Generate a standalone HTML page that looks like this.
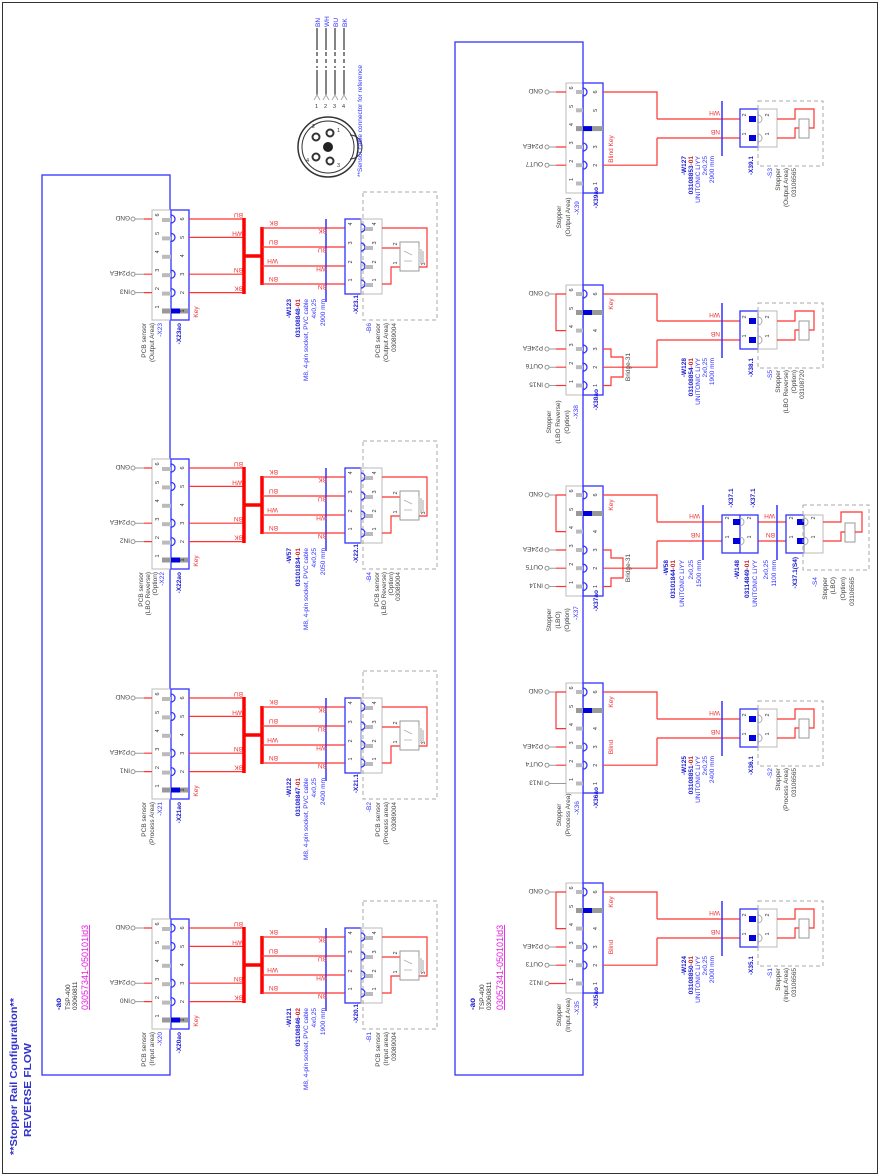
<!DOCTYPE html>
<html><head><meta charset="utf-8"><style>
html,body{margin:0;padding:0;background:#fff;}
svg{display:block;font-family:"Liberation Sans",sans-serif;}
.r{stroke:#f33;stroke-width:1.2;fill:none}
.bl{stroke:#33f;stroke-width:1.3;fill:none}
.g{fill:#bbb}
.t{font-size:6.5px;fill:#33f}
.tb{font-size:6.5px;fill:#1a1ad0;font-weight:bold}
.tr{font-size:6.5px;fill:#e33}
.tk{font-size:6.5px;fill:#444}
.d{font-size:5.5px;fill:#333}
</style></head><body>
<svg width="880" height="1176" viewBox="0 0 880 1176" xmlns="http://www.w3.org/2000/svg">
<rect x="0" y="0" width="880" height="1176" fill="#fff"/>
<rect x="2.5" y="2.5" width="875" height="1171" fill="none" stroke="#333" stroke-width="1"/>

<defs>
<!-- ============ SENSOR MODULE (X20 coords, G=928) ============ -->
<g id="sens">
 <rect x="152" y="919" width="19" height="110" fill="#fff" stroke="#bbb"/>
 <rect x="171" y="919" width="18" height="110" class="bl"/>
 <rect x="162" y="927" width="9" height="4" class="g"/><rect x="162" y="945.4" width="9" height="4" class="g"/>
 <rect x="162" y="963.8" width="9" height="4" class="g"/><rect x="162" y="982.2" width="9" height="4" class="g"/>
 <rect x="162" y="1000.6" width="9" height="4" class="g"/>
 <rect x="162" y="1017.5" width="9" height="5" fill="#999"/>
 <rect x="171" y="1017.5" width="9" height="5" fill="#00d"/><rect x="180" y="1017.5" width="8" height="5" fill="#999"/>
 <path d="M171,924 a4,4 0 0 1 0,8 M171,942.4 a4,4 0 0 1 0,8 M171,979.2 a4,4 0 0 1 0,8 M171,997.6 a4,4 0 0 1 0,8" class="bl"/>
 <g class="d">
  <text transform="translate(159,924) rotate(-90)" text-anchor="middle">6</text>
  <text transform="translate(159,942.4) rotate(-90)" text-anchor="middle">5</text>
  <text transform="translate(159,960.8) rotate(-90)" text-anchor="middle">4</text>
  <text transform="translate(159,979.2) rotate(-90)" text-anchor="middle">3</text>
  <text transform="translate(159,997.6) rotate(-90)" text-anchor="middle">2</text>
  <text transform="translate(159,1016) rotate(-90)" text-anchor="middle">1</text>
  <text transform="translate(184,928) rotate(-90)" text-anchor="middle">6</text>
  <text transform="translate(184,946.4) rotate(-90)" text-anchor="middle">5</text>
  <text transform="translate(184,964.8) rotate(-90)" text-anchor="middle">4</text>
  <text transform="translate(184,983.2) rotate(-90)" text-anchor="middle">3</text>
  <text transform="translate(184,1001.6) rotate(-90)" text-anchor="middle">2</text>
  <text transform="translate(184,1020) rotate(-90)" text-anchor="middle">1</text>
 </g>
 <g fill="#fff" stroke="#999"><circle cx="133" cy="928" r="2"/><circle cx="133" cy="983.2" r="2"/><circle cx="133" cy="1001.6" r="2"/></g>
 <path d="M135,928H144 M135,983.2H144 M135,1001.6H144" stroke="#999"/>
 <path d="M144,928H152 M144,983.2H152 M144,1001.6H152" class="r"/>
 <path d="M189,928H244 M189,946.4H244 M189,983.2H244 M189,1001.6H244" class="r"/>
 <path d="M244,927V1003 M244,965H262 M262,936V994" stroke="#f00" stroke-width="3.5" fill="none"/>
 <path d="M262,937H345 M262,956H345 M262,975H345 M262,993H345" class="r"/>
 <path d="M326,928V1011" stroke="#33f" stroke-width="1.5"/>
 <rect x="345" y="928" width="16" height="75" class="bl"/>
 <rect x="361" y="928" width="21" height="75" fill="none" stroke="#bbb"/>
 <rect x="363" y="901" width="74" height="128" fill="none" stroke="#aaa" stroke-dasharray="4,3"/>
 <path d="M361,933 a4,4 0 0 1 0,8 M361,952 a4,4 0 0 1 0,8 M361,971 a4,4 0 0 1 0,8 M361,989 a4,4 0 0 1 0,8" class="bl"/>
 <rect x="365" y="936" width="8" height="4" class="g"/><rect x="365" y="955" width="8" height="4" class="g"/>
 <rect x="365" y="974" width="8" height="4" class="g"/><rect x="365" y="992" width="8" height="4" class="g"/>
 <g class="d">
  <text transform="translate(352,933) rotate(-90)" text-anchor="middle">4</text>
  <text transform="translate(352,952) rotate(-90)" text-anchor="middle">3</text>
  <text transform="translate(352,971) rotate(-90)" text-anchor="middle">2</text>
  <text transform="translate(352,989) rotate(-90)" text-anchor="middle">1</text>
  <text transform="translate(376,933) rotate(-90)" text-anchor="middle">4</text>
  <text transform="translate(376,952) rotate(-90)" text-anchor="middle">3</text>
  <text transform="translate(376,971) rotate(-90)" text-anchor="middle">2</text>
  <text transform="translate(376,989) rotate(-90)" text-anchor="middle">1</text>
  <text transform="translate(397,953) rotate(-90)" text-anchor="middle">2</text>
  <text transform="translate(397,972) rotate(-90)" text-anchor="middle">1</text>
  <text transform="translate(425,973) rotate(-90)" text-anchor="middle">3</text>
 </g>
 <path d="M382,937H427V976H419 M382,957H400 M382,993H391V976H400" class="r"/>
 <rect x="400" y="951" width="19" height="29" fill="#fff" stroke="#999"/>
 <path d="M419,956V975 M421,958V973 M423,960V971" stroke="#aaa"/>
 <path d="M404,960l8,4 M404,970h8" stroke="#aaa" stroke-width="0.7"/>
 <g class="tr">
  <text transform="translate(243,922) rotate(180)">BU</text>
  <text transform="translate(243,940.4) rotate(180)">WH</text>
  <text transform="translate(243,977.2) rotate(180)">BN</text>
  <text transform="translate(243,995.6) rotate(180)">BK</text>
  <text transform="translate(278,930) rotate(180)">BK</text>
  <text transform="translate(278,949) rotate(180)">BU</text>
  <text transform="translate(278,968) rotate(180)">WH</text>
  <text transform="translate(278,986) rotate(180)">BN</text>
  <text transform="translate(327,938) rotate(180)">BK</text>
  <text transform="translate(327,957) rotate(180)">BU</text>
  <text transform="translate(327,976) rotate(180)">WH</text>
  <text transform="translate(327,994) rotate(180)">BN</text>
  <text transform="translate(198,1021) rotate(-90)" text-anchor="middle">Key</text>
 </g>
 <g class="tk">
  <text transform="translate(130,925) rotate(180)">GND</text>
  <text transform="translate(130,980.2) rotate(180)">P24EA</text>
 </g>
</g>

<!-- ============ STOPPER BASE (X35 coords, G=892) ============ -->
<g id="stop">
 <rect x="566" y="883" width="17" height="110" fill="#fff" stroke="#bbb"/>
 <rect x="583" y="883" width="20" height="110" class="bl"/>
 <rect x="576" y="890" width="7" height="4" class="g"/><rect x="576" y="908.3" width="7" height="4" class="g"/>
 <rect x="576" y="926.6" width="7" height="4" class="g"/><rect x="576" y="945" width="7" height="4" class="g"/>
 <rect x="576" y="963.2" width="7" height="4" class="g"/><rect x="576" y="981.5" width="7" height="4" class="g"/>
 <path d="M583,888 a4,4 0 0 1 0,8 M583,943 a4,4 0 0 1 0,8 M583,961.2 a4,4 0 0 1 0,8" class="bl"/>
 <g class="d">
  <text transform="translate(573,888) rotate(-90)" text-anchor="middle">6</text>
  <text transform="translate(573,906.3) rotate(-90)" text-anchor="middle">5</text>
  <text transform="translate(573,924.6) rotate(-90)" text-anchor="middle">4</text>
  <text transform="translate(573,943) rotate(-90)" text-anchor="middle">3</text>
  <text transform="translate(573,961.2) rotate(-90)" text-anchor="middle">2</text>
  <text transform="translate(573,979.5) rotate(-90)" text-anchor="middle">1</text>
  <text transform="translate(597,892) rotate(-90)" text-anchor="middle">6</text>
  <text transform="translate(597,910.3) rotate(-90)" text-anchor="middle">5</text>
  <text transform="translate(597,928.6) rotate(-90)" text-anchor="middle">4</text>
  <text transform="translate(597,947) rotate(-90)" text-anchor="middle">3</text>
  <text transform="translate(597,965.2) rotate(-90)" text-anchor="middle">2</text>
  <text transform="translate(597,983.5) rotate(-90)" text-anchor="middle">1</text>
 </g>
 <g fill="#fff" stroke="#999"><circle cx="547" cy="892" r="2"/><circle cx="547" cy="947" r="2"/><circle cx="547" cy="965.2" r="2"/></g>
 <path d="M549,892H556 M549,947H556 M549,965.2H556" stroke="#999"/>
 <path d="M556,892H566 M556,947H566 M556,965.2H566" class="r"/>
 <path d="M603,892H657V919 M603,965.2H657V938" class="r"/>
 <text class="tk" transform="translate(543,889) rotate(180)">GND</text>
 <text class="tk" transform="translate(543,944) rotate(180)">P24EA</text>
</g>
<g id="stEnd">
 <path d="M657,919H740 M657,938H740" class="r"/>
 <path d="M722,901V956" stroke="#33f" stroke-width="1.5"/>
 <rect x="740" y="909" width="18" height="38" class="bl"/>
 <rect x="758" y="909" width="19" height="38" fill="none" stroke="#bbb"/>
 <rect x="749" y="916" width="7" height="6" fill="#00d"/><rect x="749" y="935" width="7" height="6" fill="#00d"/>
 <path d="M758,915 a4,4 0 0 1 0,8 M758,934 a4,4 0 0 1 0,8" stroke="#aaa" fill="none"/>
 <rect x="758" y="901" width="65" height="65" fill="none" stroke="#aaa" stroke-dasharray="4,3"/>
 <rect x="799" y="919" width="10" height="19" fill="#fff" stroke="#999"/>
 <path d="M777,919H795V909H814V928H809 M777,938H795V928H799" class="r"/>
 <g class="d">
  <text transform="translate(746,915) rotate(-90)" text-anchor="middle">2</text>
  <text transform="translate(746,934) rotate(-90)" text-anchor="middle">1</text>
  <text transform="translate(769,915) rotate(-90)" text-anchor="middle">2</text>
  <text transform="translate(769,934) rotate(-90)" text-anchor="middle">1</text>
 </g>
 <text class="tr" transform="translate(720,911) rotate(180)">WH</text>
 <text class="tr" transform="translate(720,930) rotate(180)">NB</text>
</g>
<path id="gb" d="M556,892V928.6H566" class="r"/>
<path id="br31" d="M603,983.5H611V975H623V955H611V947H603" class="r"/>
<path id="sock1" d="M583,979.5 a4,4 0 0 1 0,8" class="bl"/>
<g id="key5"><rect x="576" y="908" width="7" height="5" fill="#999"/><rect x="583" y="908" width="9" height="5" fill="#00d"/><rect x="592" y="908" width="11" height="5" fill="#999"/></g>
</defs>

<!-- Title -->
<text transform="translate(17,1155) rotate(-90)" font-size="10" font-weight="bold" fill="#3333cc" textLength="157" lengthAdjust="spacingAndGlyphs">**Stopper Rail Configuration**</text>
<text transform="translate(31,1137) rotate(-90)" font-size="10" font-weight="bold" fill="#3333cc" textLength="94" lengthAdjust="spacingAndGlyphs">REVERSE FLOW</text>

<!-- Boxes -->
<rect x="42" y="175" width="128" height="900" fill="none" stroke="#33f" stroke-width="1.3"/>
<rect x="455" y="42" width="128" height="1033" fill="none" stroke="#33f" stroke-width="1.3"/>

<!-- ao labels -->
<g>
 <text transform="translate(61,1010) rotate(-90)" font-size="8" font-weight="bold" fill="#1a1ad0">-ao</text>
 <text transform="translate(70,1010) rotate(-90)" font-size="6.5" fill="#333">TSP-400</text>
 <text transform="translate(77,1010) rotate(-90)" font-size="6.5" fill="#333">03060811</text>
 <text transform="translate(88,1010) rotate(-90)" font-size="9" fill="#e020e0" text-decoration="underline">03057341-050101ld3</text>
 <text transform="translate(475,1010) rotate(-90)" font-size="8" font-weight="bold" fill="#1a1ad0">-ao</text>
 <text transform="translate(484,1010) rotate(-90)" font-size="6.5" fill="#333">TSP-400</text>
 <text transform="translate(491,1010) rotate(-90)" font-size="6.5" fill="#333">03060811</text>
 <text transform="translate(503,1010) rotate(-90)" font-size="9" fill="#e020e0" text-decoration="underline">03057341-050101ld3</text>
</g>

<!-- Reference connector -->
<g>
 <g stroke="#333" stroke-width="1.2">
  <path d="M317,28V50 M317,70V95 M326,28V50 M326,70V95 M335,28V50 M335,70V95 M344,28V50 M344,70V95"/>
  <path d="M317,52V68 M326,52V68 M335,52V68 M344,52V68" stroke-dasharray="4,3"/>
 </g>
 <path d="M314,100l3,-5 3,5 M323,100l3,-5 3,5 M332,100l3,-5 3,5 M341,100l3,-5 3,5" stroke="#aaa" fill="none"/>
 <g class="d"><text x="315" y="108">1</text><text x="324" y="108">2</text><text x="333" y="108">3</text><text x="342" y="108">4</text></g>
 <g class="t" font-size="6">
  <text transform="translate(320,27) rotate(-90)">BN</text>
  <text transform="translate(329,27) rotate(-90)">WH</text>
  <text transform="translate(338,27) rotate(-90)">BU</text>
  <text transform="translate(347,27) rotate(-90)">BK</text>
 </g>
 <circle cx="328" cy="147" r="30" fill="none" stroke="#333" stroke-width="1.5"/>
 <circle cx="328" cy="147" r="26" fill="none" stroke="#333" stroke-width="1"/>
 <path d="M350,135 A12,12 0 0 1 350,159" fill="none" stroke="#333"/>
 <circle cx="328" cy="147" r="5" fill="#222"/>
 <g fill="#fff" stroke="#333" stroke-width="2"><circle cx="330" cy="133" r="3.5"/><circle cx="316" cy="137" r="3.5"/><circle cx="316" cy="157" r="3.5"/><circle cx="330" cy="161" r="3.5"/></g>
 <g class="d"><text x="337" y="132">1</text><text x="312" y="128">2</text><text x="337" y="167">3</text><text x="306" y="162">4</text></g>
 <text transform="translate(362,177) rotate(-90)" class="t">**Sensor cable connector for reference</text>
</g>

<!-- ============ SENSORS ============ -->
<g>
 <use href="#sens"/>
 <text class="tk" transform="translate(130,998.6) rotate(180)">IN0</text>
 <g text-anchor="end">
  <text class="tk" transform="translate(146,1032) rotate(-90)">PCB sensor</text>
  <text class="tk" transform="translate(154,1032) rotate(-90)">(Input area)</text>
  <text class="t" transform="translate(162,1032) rotate(-90)">-X20</text>
  <text class="tb" transform="translate(181,1032) rotate(-90)">-X20ao</text>
  <text class="tb" transform="translate(291,1008) rotate(-90)">-W121</text>
  <text class="tb" transform="translate(300,1008) rotate(-90)">03108846<tspan fill="#c22">-02</tspan></text>
  <text class="t" transform="translate(308,1008) rotate(-90)">M8, 4-pin socket, PVC cable</text>
  <text class="t" transform="translate(316,1008) rotate(-90)">4x0,25</text>
  <text class="t" transform="translate(325,1008) rotate(-90)">1900 mm</text>
  <text class="tb" transform="translate(358,1004) rotate(-90)">-X20.1</text>
  <text class="t" transform="translate(371,1032) rotate(-90)">-B1</text>
  <text class="tk" transform="translate(380,1032) rotate(-90)">PCB sensor</text>
  <text class="tk" transform="translate(388,1032) rotate(-90)">(Input area)</text>
  <text class="tk" transform="translate(396,1032) rotate(-90)">03089004</text>
 </g>
</g>
<g transform="translate(0,-230)">
 <use href="#sens"/>
 <text class="tk" transform="translate(130,998.6) rotate(180)">IN1</text>
 <g text-anchor="end">
  <text class="tk" transform="translate(146,1032) rotate(-90)">PCB sensor</text>
  <text class="tk" transform="translate(154,1032) rotate(-90)">(Process Area)</text>
  <text class="t" transform="translate(162,1032) rotate(-90)">-X21</text>
  <text class="tb" transform="translate(181,1032) rotate(-90)">-X21ao</text>
  <text class="tb" transform="translate(291,1008) rotate(-90)">-W122</text>
  <text class="tb" transform="translate(300,1008) rotate(-90)">03108847<tspan fill="#c22">-01</tspan></text>
  <text class="t" transform="translate(308,1008) rotate(-90)">M8, 4-pin socket, PVC cable</text>
  <text class="t" transform="translate(316,1008) rotate(-90)">4x0,25</text>
  <text class="t" transform="translate(325,1008) rotate(-90)">2400 mm</text>
  <text class="tb" transform="translate(358,1004) rotate(-90)">-X21.1</text>
  <text class="t" transform="translate(371,1032) rotate(-90)">-B2</text>
  <text class="tk" transform="translate(380,1032) rotate(-90)">PCB sensor</text>
  <text class="tk" transform="translate(388,1032) rotate(-90)">(Process area)</text>
  <text class="tk" transform="translate(396,1032) rotate(-90)">03089004</text>
 </g>
</g>
<g transform="translate(0,-460)">
 <use href="#sens"/>
 <text class="tk" transform="translate(130,998.6) rotate(180)">IN2</text>
 <g text-anchor="end">
  <text class="tk" transform="translate(143,1032) rotate(-90)">PCB sensor</text>
  <text class="tk" transform="translate(150,1032) rotate(-90)">(LBO Reverse)</text>
  <text class="tk" transform="translate(157,1032) rotate(-90)">(Option)</text>
  <text class="t" transform="translate(164,1032) rotate(-90)">-X22</text>
  <text class="tb" transform="translate(181,1032) rotate(-90)">-X22ao</text>
  <text class="tb" transform="translate(291,1008) rotate(-90)">-W57</text>
  <text class="tb" transform="translate(300,1008) rotate(-90)">03101834<tspan fill="#c22">-01</tspan></text>
  <text class="t" transform="translate(308,1008) rotate(-90)">M8, 4-pin socket, PVC cable</text>
  <text class="t" transform="translate(316,1008) rotate(-90)">4x0,25</text>
  <text class="t" transform="translate(325,1008) rotate(-90)">2050 mm</text>
  <text class="tb" transform="translate(358,1004) rotate(-90)">-X22.1</text>
  <text class="t" transform="translate(371,1032) rotate(-90)">-B4</text>
  <text class="tk" transform="translate(379,1032) rotate(-90)">PCB sensor</text>
  <text class="tk" transform="translate(386,1032) rotate(-90)">(LBO Reverse)</text>
  <text class="tk" transform="translate(393,1032) rotate(-90)">(Option)</text>
  <text class="tk" transform="translate(400,1032) rotate(-90)">03089004</text>
 </g>
</g>
<g transform="translate(0,-709)">
 <use href="#sens"/>
 <text class="tk" transform="translate(130,998.6) rotate(180)">IN3</text>
 <g text-anchor="end">
  <text class="tk" transform="translate(146,1032) rotate(-90)">PCB sensor</text>
  <text class="tk" transform="translate(154,1032) rotate(-90)">(Output Area)</text>
  <text class="t" transform="translate(162,1032) rotate(-90)">-X23</text>
  <text class="tb" transform="translate(181,1032) rotate(-90)">-X23ao</text>
  <text class="tb" transform="translate(291,1008) rotate(-90)">-W123</text>
  <text class="tb" transform="translate(300,1008) rotate(-90)">03108848<tspan fill="#c22">-01</tspan></text>
  <text class="t" transform="translate(308,1008) rotate(-90)">M8, 4-pin socket, PVC cable</text>
  <text class="t" transform="translate(316,1008) rotate(-90)">4x0,25</text>
  <text class="t" transform="translate(325,1008) rotate(-90)">2900 mm</text>
  <text class="tb" transform="translate(358,1004) rotate(-90)">-X23.1</text>
  <text class="t" transform="translate(371,1032) rotate(-90)">-B6</text>
  <text class="tk" transform="translate(380,1032) rotate(-90)">PCB sensor</text>
  <text class="tk" transform="translate(388,1032) rotate(-90)">(Output Area)</text>
  <text class="tk" transform="translate(396,1032) rotate(-90)">03089004</text>
 </g>
</g>

<!-- ============ STOPPERS ============ -->
<!-- X35 -->
<g>
 <use href="#stop"/><use href="#stEnd"/><use href="#gb"/><use href="#key5"/>
 <circle cx="547" cy="983.5" r="2" fill="#fff" stroke="#999"/><path d="M549,983.5H566" class="r"/>
 <text class="tk" transform="translate(543,962.2) rotate(180)">OUT3</text>
 <text class="tk" transform="translate(543,980.5) rotate(180)">IN12</text>
 <text class="tr" transform="translate(613,902) rotate(-90)" text-anchor="middle">Key</text>
 <text class="tr" transform="translate(613,947) rotate(-90)" text-anchor="middle">Blind</text>
 <g text-anchor="middle">
  <text class="tk" transform="translate(561,1015) rotate(-90)">Stopper</text>
  <text class="tk" transform="translate(570,1015) rotate(-90)">(Input Area)</text>
  <text class="t" transform="translate(579,1008) rotate(-90)">-X35</text>
 </g>
 <g text-anchor="end">
  <text class="tb" transform="translate(598,987) rotate(-90)">-X35ao</text>
  <text class="tb" transform="translate(686,956) rotate(-90)">-W124</text>
  <text class="tb" transform="translate(693,956) rotate(-90)">03108850<tspan fill="#c22">-01</tspan></text>
  <text class="t" transform="translate(700,956) rotate(-90)">UNITONIC LiYY</text>
  <text class="t" transform="translate(707,956) rotate(-90)">2x0,25</text>
  <text class="t" transform="translate(714,956) rotate(-90)">2000 mm</text>
  <text class="tb" transform="translate(753,956) rotate(-90)">-X35.1</text>
  <text class="t" transform="translate(772,968) rotate(-90)">-S1</text>
  <text class="tk" transform="translate(780,968) rotate(-90)">Stopper</text>
  <text class="tk" transform="translate(788,968) rotate(-90)">(Input Area)</text>
  <text class="tk" transform="translate(796,968) rotate(-90)">03106565</text>
 </g>
</g>
<!-- X36 -->
<g transform="translate(0,-200)">
 <use href="#stop"/><use href="#stEnd"/><use href="#gb"/><use href="#key5"/>
 <circle cx="547" cy="983.5" r="2" fill="#fff" stroke="#999"/><path d="M549,983.5H566" stroke="#999"/>
 <text class="tk" transform="translate(543,962.2) rotate(180)">OUT4</text>
 <text class="tk" transform="translate(543,980.5) rotate(180)">IN13</text>
 <text class="tr" transform="translate(613,902) rotate(-90)" text-anchor="middle">Key</text>
 <text class="tr" transform="translate(613,947) rotate(-90)" text-anchor="middle">Blind</text>
 <g text-anchor="middle">
  <text class="tk" transform="translate(561,1015) rotate(-90)">Stopper</text>
  <text class="tk" transform="translate(570,1015) rotate(-90)">(Process Area)</text>
  <text class="t" transform="translate(579,1008) rotate(-90)">-X36</text>
 </g>
 <g text-anchor="end">
  <text class="tb" transform="translate(598,987) rotate(-90)">-X36ao</text>
  <text class="tb" transform="translate(686,956) rotate(-90)">-W125</text>
  <text class="tb" transform="translate(693,956) rotate(-90)">03108851<tspan fill="#c22">-01</tspan></text>
  <text class="t" transform="translate(700,956) rotate(-90)">UNITONIC LiYY</text>
  <text class="t" transform="translate(707,956) rotate(-90)">2x0,25</text>
  <text class="t" transform="translate(714,956) rotate(-90)">2400 mm</text>
  <text class="tb" transform="translate(753,956) rotate(-90)">-X36.1</text>
  <text class="t" transform="translate(772,968) rotate(-90)">-S2</text>
  <text class="tk" transform="translate(780,968) rotate(-90)">Stopper</text>
  <text class="tk" transform="translate(788,968) rotate(-90)">(Process Area)</text>
  <text class="tk" transform="translate(796,968) rotate(-90)">03106565</text>
 </g>
</g>
<!-- X37 -->
<g transform="translate(0,-397)">
 <use href="#stop"/><use href="#gb"/><use href="#key5"/><use href="#br31"/><use href="#sock1"/>
 <circle cx="547" cy="983.5" r="2" fill="#fff" stroke="#999"/><path d="M549,983.5H556" stroke="#999"/><path d="M556,983.5H566" class="r"/>
 <text class="tk" transform="translate(543,962.2) rotate(180)">OUT5</text>
 <text class="tk" transform="translate(543,980.5) rotate(180)">IN14</text>
 <text class="tr" transform="translate(613,902) rotate(-90)" text-anchor="middle">Key</text>
 <text class="tk" transform="translate(630,965) rotate(-90)" text-anchor="middle">Bridge-31</text>
 <!-- end part -->
 <path d="M657,919H722 M657,938H722 M758,919H786 M758,938H786" class="r"/>
 <path d="M703,902V957 M777,902V957" stroke="#33f" stroke-width="1.5"/>
 <rect x="722" y="912" width="36" height="38" class="bl"/><path d="M740,912V950" class="bl"/>
 <rect x="733" y="916" width="7" height="6" fill="#00d"/><rect x="733" y="935" width="7" height="6" fill="#00d"/>
 <path d="M740,915 a4,4 0 0 1 0,8 M740,934 a4,4 0 0 1 0,8" stroke="#aaa" fill="none"/>
 <rect x="786" y="912" width="18" height="38" class="bl"/>
 <rect x="804" y="912" width="19" height="38" fill="none" stroke="#bbb"/>
 <rect x="797" y="916" width="7" height="6" fill="#00d"/><rect x="797" y="935" width="7" height="6" fill="#00d"/>
 <path d="M804,915 a4,4 0 0 1 0,8 M804,934 a4,4 0 0 1 0,8" stroke="#aaa" fill="none"/>
 <rect x="803" y="902" width="66" height="65" fill="none" stroke="#aaa" stroke-dasharray="4,3"/>
 <rect x="845" y="920" width="10" height="19" fill="#fff" stroke="#999"/>
 <path d="M823,919H841V909H862V929H855 M823,938H841V929H845" class="r"/>
 <g class="d">
  <text transform="translate(729,915) rotate(-90)" text-anchor="middle">2</text>
  <text transform="translate(729,934) rotate(-90)" text-anchor="middle">1</text>
  <text transform="translate(751,915) rotate(-90)" text-anchor="middle">2</text>
  <text transform="translate(751,934) rotate(-90)" text-anchor="middle">1</text>
  <text transform="translate(793,915) rotate(-90)" text-anchor="middle">2</text>
  <text transform="translate(793,934) rotate(-90)" text-anchor="middle">1</text>
  <text transform="translate(815,915) rotate(-90)" text-anchor="middle">2</text>
  <text transform="translate(815,934) rotate(-90)" text-anchor="middle">1</text>
 </g>
 <text class="tr" transform="translate(700,911) rotate(180)">WH</text>
 <text class="tr" transform="translate(700,930) rotate(180)">NB</text>
 <text class="tr" transform="translate(775,911) rotate(180)">WH</text>
 <text class="tr" transform="translate(775,930) rotate(180)">BN</text>
 <text class="tb" transform="translate(733,895) rotate(-90)" text-anchor="middle">-X37.1</text>
 <text class="tb" transform="translate(755,895) rotate(-90)" text-anchor="middle">-X37.1</text>
 <g text-anchor="middle">
  <text class="tk" transform="translate(551,1017) rotate(-90)">Stopper</text>
  <text class="tk" transform="translate(560,1017) rotate(-90)">(LBO)</text>
  <text class="tk" transform="translate(569,1017) rotate(-90)">(Option)</text>
  <text class="t" transform="translate(578,1010) rotate(-90)">-X37</text>
 </g>
 <g text-anchor="end">
  <text class="tb" transform="translate(598,987) rotate(-90)">-X37ao</text>
  <text class="tb" transform="translate(668,957) rotate(-90)">-W58</text>
  <text class="tb" transform="translate(675,957) rotate(-90)">03101844<tspan fill="#c22">-01</tspan></text>
  <text class="t" transform="translate(684,957) rotate(-90)">UNITONIC LiYY</text>
  <text class="t" transform="translate(693,957) rotate(-90)">2x0,25</text>
  <text class="t" transform="translate(701,957) rotate(-90)">1500 mm</text>
  <text class="tb" transform="translate(739,957) rotate(-90)">-W148</text>
  <text class="tb" transform="translate(749,957) rotate(-90)">03114849<tspan fill="#c22">-01</tspan></text>
  <text class="t" transform="translate(757,957) rotate(-90)">UNITONIC LiYY</text>
  <text class="t" transform="translate(768,957) rotate(-90)">2x0,25</text>
  <text class="t" transform="translate(776,957) rotate(-90)">1100 mm</text>
  <text class="tb" transform="translate(797,954) rotate(-90)">-X37.1(S4)</text>
  <text class="t" transform="translate(817,974) rotate(-90)">-S4</text>
  <text class="tk" transform="translate(827,974) rotate(-90)">Stopper</text>
  <text class="tk" transform="translate(835,974) rotate(-90)">(LBO)</text>
  <text class="tk" transform="translate(845,974) rotate(-90)">(Option)</text>
  <text class="tk" transform="translate(854,974) rotate(-90)">03106565</text>
 </g>
</g>
<!-- X38 -->
<g transform="translate(0,-598)">
 <use href="#stop"/><use href="#stEnd"/><use href="#gb"/><use href="#key5"/><use href="#br31"/><use href="#sock1"/>
 <circle cx="547" cy="983.5" r="2" fill="#fff" stroke="#999"/><path d="M549,983.5H556" stroke="#999"/><path d="M556,983.5H566" class="r"/>
 <text class="tk" transform="translate(543,962.2) rotate(180)">OUT6</text>
 <text class="tk" transform="translate(543,980.5) rotate(180)">IN15</text>
 <text class="tr" transform="translate(613,902) rotate(-90)" text-anchor="middle">Key</text>
 <text class="tk" transform="translate(630,965) rotate(-90)" text-anchor="middle">Bridge-31</text>
 <g text-anchor="middle">
  <text class="tk" transform="translate(551,1020) rotate(-90)">Stopper</text>
  <text class="tk" transform="translate(560,1020) rotate(-90)">(LBO Reverse)</text>
  <text class="tk" transform="translate(569,1020) rotate(-90)">(Option)</text>
  <text class="t" transform="translate(578,1010) rotate(-90)">-X38</text>
 </g>
 <g text-anchor="end">
  <text class="tb" transform="translate(598,987) rotate(-90)">-X38ao</text>
  <text class="tb" transform="translate(686,956) rotate(-90)">-W128</text>
  <text class="tb" transform="translate(693,956) rotate(-90)">03108854<tspan fill="#c22">-01</tspan></text>
  <text class="t" transform="translate(700,956) rotate(-90)">UNITONIC LiYY</text>
  <text class="t" transform="translate(707,956) rotate(-90)">2x0,25</text>
  <text class="t" transform="translate(714,956) rotate(-90)">1900 mm</text>
  <text class="tb" transform="translate(753,956) rotate(-90)">-X38.1</text>
  <text class="t" transform="translate(772,968) rotate(-90)">-S5</text>
  <text class="tk" transform="translate(780,968) rotate(-90)">Stopper</text>
  <text class="tk" transform="translate(788,968) rotate(-90)">(LBO Reverse)</text>
  <text class="tk" transform="translate(796,968) rotate(-90)">(Option)</text>
  <text class="tk" transform="translate(804,968) rotate(-90)">03108720</text>
 </g>
</g>
<!-- X39 -->
<g transform="translate(0,-800)">
 <use href="#stop"/><use href="#stEnd"/>
 <rect x="576" y="926.1" width="7" height="5" fill="#999"/><rect x="583" y="926.1" width="9" height="5" fill="#00d"/><rect x="592" y="926.1" width="11" height="5" fill="#999"/>
 <text class="tk" transform="translate(543,962.2) rotate(180)">OUT7</text>
 <text class="tr" transform="translate(613,949) rotate(-90)" text-anchor="middle">Blind Key</text>
 <g text-anchor="middle">
  <text class="tk" transform="translate(561,1017) rotate(-90)">Stopper</text>
  <text class="tk" transform="translate(570,1017) rotate(-90)">(Output Area)</text>
  <text class="t" transform="translate(579,1008) rotate(-90)">-X39</text>
 </g>
 <g text-anchor="end">
  <text class="tb" transform="translate(598,987) rotate(-90)">-X39ao</text>
  <text class="tb" transform="translate(686,956) rotate(-90)">-W127</text>
  <text class="tb" transform="translate(693,956) rotate(-90)">03108853<tspan fill="#c22">-01</tspan></text>
  <text class="t" transform="translate(700,956) rotate(-90)">UNITONIC LiYY</text>
  <text class="t" transform="translate(707,956) rotate(-90)">2x0,25</text>
  <text class="t" transform="translate(714,956) rotate(-90)">2900 mm</text>
  <text class="tb" transform="translate(753,956) rotate(-90)">-X39.1</text>
  <text class="t" transform="translate(772,968) rotate(-90)">-S3</text>
  <text class="tk" transform="translate(780,968) rotate(-90)">Stopper</text>
  <text class="tk" transform="translate(788,968) rotate(-90)">(Output Area)</text>
  <text class="tk" transform="translate(796,968) rotate(-90)">03106565</text>
 </g>
</g>
</svg>
</body></html>
